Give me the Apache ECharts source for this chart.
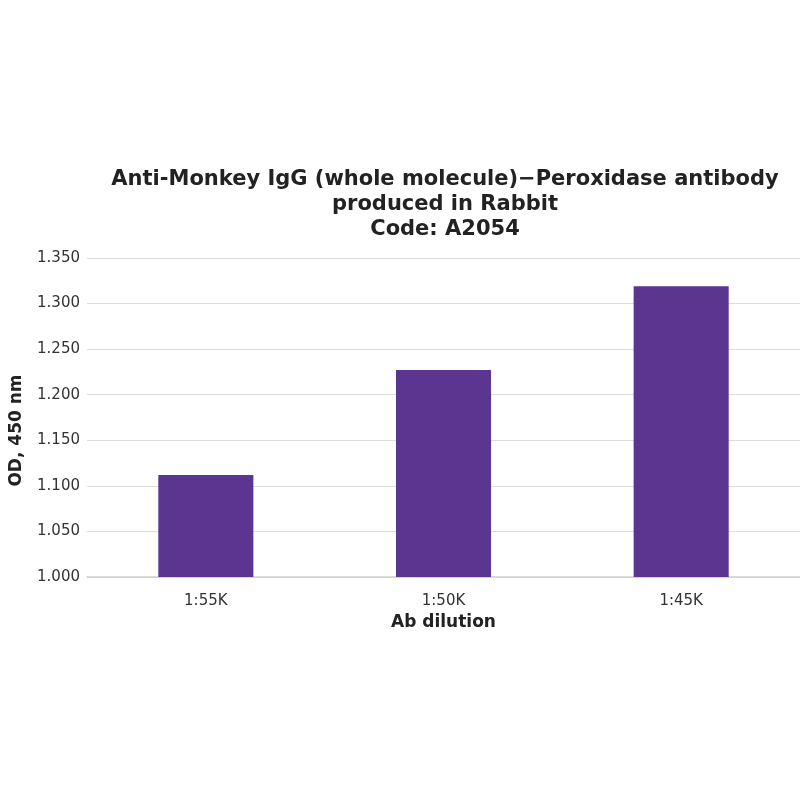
<!DOCTYPE html>
<html><head><meta charset="utf-8">
<script src="https://cdn.jsdelivr.net/npm/echarts@6/dist/echarts.min.js"></script>
<style>html,body{margin:0;padding:0;background:#fff}#c{width:800px;height:800px}</style>
</head><body><div id="c"></div>
<script>
const categories = ['1:55K', '1:50K', '1:45K'];
const values = [1.112, 1.227, 1.319];
const titleLines = ['Anti-Monkey IgG (whole molecule)\u2212Peroxidase antibody', 'produced in Rabbit', 'Code: A2054'];

const chart = echarts.init(document.getElementById('c'));
chart.setOption({
  backgroundColor: '#fff',
  title: {
    text: titleLines.join('\n'),
    left: 440, top: 162, textAlign: 'center',
    textStyle: { fontFamily: 'DejaVu Sans', fontWeight: 'bold', fontSize: 21, color: '#222', lineHeight: 25 }
  },
  grid: { left: 78, right: 0, top: 258, bottom: 223, containLabel: false },
  xAxis: {
    type: 'category', data: categories,
    name: 'Ab dilution', nameLocation: 'middle', nameGap: 37,
    nameTextStyle: { fontFamily: 'DejaVu Sans', fontWeight: 'bold', fontSize: 17, color: '#222' },
    axisLine: { lineStyle: { color: '#cfcfcf', width: 1.5 } },
    axisTick: { show: false },
    axisLabel: { fontFamily: 'DejaVu Sans', fontSize: 15, color: '#333', margin: 17 }
  },
  yAxis: {
    type: 'value', min: 1.0, max: 1.35, interval: 0.05,
    name: 'OD, 450 nm', nameLocation: 'middle', nameGap: 62, nameRotate: 90,
    nameTextStyle: { fontFamily: 'DejaVu Sans', fontWeight: 'bold', fontSize: 17, color: '#222', padding: [0, 26, 0, 0] },
    axisLine: { show: false }, axisTick: { show: false },
    axisLabel: { fontFamily: 'DejaVu Sans', fontSize: 15, color: '#333', margin: 7, formatter: v => v.toFixed(3) },
    splitLine: { lineStyle: { color: '#dcdcdc', width: 1.2 } }
  },
  series: [{
    type: 'bar', data: values, barWidth: '40%',
    itemStyle: { color: '#5c3591' }
  }]
});
</script></body></html>
